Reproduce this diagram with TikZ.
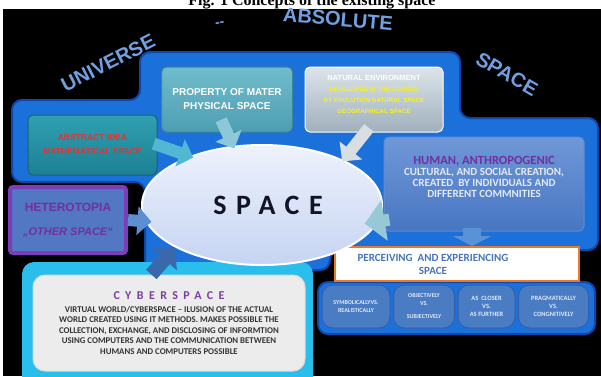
\documentclass[tikz,border=0pt]{standalone}
\usepackage{fontspec}
\setmainfont{Carlito}
\newfontfamily\arialfont{Liberation Sans}
\newfontfamily\captionfont{Liberation Serif}
\newfontfamily\trackedfont[LetterSpace=34]{Carlito}
\newfontfamily\widetrackedfont[LetterSpace=45]{Carlito}
\usetikzlibrary{arrows.meta,positioning,shapes.geometric}

\definecolor{plateblue}{RGB}{28,112,218}
\definecolor{plateedge}{RGB}{14,72,172}
\definecolor{arcblue}{RGB}{112,160,225}
\definecolor{tealtop}{RGB}{48,160,176}
\definecolor{tealbottom}{RGB}{28,128,148}
\definecolor{tealedge}{RGB}{22,100,118}
\definecolor{ideared}{RGB}{232,48,48}
\definecolor{mattertop}{RGB}{112,188,204}
\definecolor{matterbottom}{RGB}{78,158,178}
\definecolor{matteredge}{RGB}{62,132,152}
\definecolor{silvertop}{RGB}{220,228,234}
\definecolor{silverbottom}{RGB}{160,176,188}
\definecolor{natureyellow}{RGB}{246,240,40}
\definecolor{humantop}{RGB}{112,152,216}
\definecolor{humanbottom}{RGB}{72,118,194}
\definecolor{humanedge}{RGB}{96,140,210}
\definecolor{anthropurple}{RGB}{112,48,160}
\definecolor{heterofill}{RGB}{82,120,196}
\definecolor{heteroedge}{RGB}{124,62,184}
\definecolor{cyberframe}{RGB}{42,190,236}
\definecolor{cyberfill}{RGB}{236,236,236}
\definecolor{cybertext}{RGB}{52,52,52}
\definecolor{cyberpurple}{RGB}{122,62,162}
\definecolor{perceiveedge}{RGB}{232,122,42}
\definecolor{perceivetext}{RGB}{72,116,186}
\definecolor{rowfill}{RGB}{74,124,196}
\definecolor{rowedge}{RGB}{50,96,172}
\definecolor{rowtext}{RGB}{226,234,246}
\definecolor{spacetop}{RGB}{238,242,252}
\definecolor{spacebottom}{RGB}{198,212,242}
\definecolor{spaceink}{RGB}{16,20,36}
\definecolor{abstractarrow}{RGB}{80,184,210}
\definecolor{matterarrow}{RGB}{140,200,216}
\definecolor{naturearrow}{RGB}{216,222,226}
\definecolor{humanarrow}{RGB}{150,200,214}
\definecolor{heteroarrow}{RGB}{92,142,210}
\definecolor{cyberarrow}{RGB}{58,104,172}
\definecolor{rowarrow}{RGB}{90,146,216}

\tikzset{
  box/.style={rounded corners=5pt, line width=1pt, align=center, inner sep=2pt},
  rowbox/.style={box, rounded corners=11pt, fill=rowfill, draw=rowedge, text=rowtext,
    minimum height=43pt, font=\bfseries\fontsize{6}{7.5}\selectfont},
  arcword/.style={text=arcblue, font=\arialfont\bfseries\fontsize{20}{20}\selectfont},
  blockarrow/.style={line width=12pt, -{Triangle[length=14pt,width=28pt]}},
}

\begin{document}
\begin{tikzpicture}[x=1pt, y=-1pt]
  \useasboundingbox (0,0) rectangle (601,376);
  \fill[white] (0,0) rectangle (601,9);
  \fill[black] (3,9) rectangle (601,376);
  \begin{scope}
    \clip (0,0) rectangle (601,9);
    \node[anchor=base, font=\captionfont\bfseries\fontsize{16}{16}\selectfont] (caption) at (312,5) {Fig. 1 Concepts of the existing space};
  \end{scope}

  \node[arcword, rotate=27] (universe) at (108,63) {UNIVERSE};
  \node[arcword, rotate=10, font=\arialfont\bfseries\fontsize{14}{14}\selectfont] (dash) at (220,24) {--};
  \node[arcword, rotate=-5] (absolute) at (338,19) {ABSOLUTE};
  \node[arcword, rotate=-30] (spaceword) at (507,74) {SPACE};

  \filldraw[fill=plateblue, draw=plateedge, line width=2pt, rounded corners=10pt]
    (12,100) -- (140,100) -- (140,52) -- (460,52) -- (460,118) -- (598,118) -- (598,250)
    -- (330,250) -- (330,270) -- (145,270) -- (145,182) -- (12,182) -- cycle;
  \filldraw[fill=plateblue, draw=plateedge, line width=2pt, rounded corners=10pt] (318,282) rectangle (595,334);
  \fill[cyberframe, rounded corners=12pt] (22,262) rectangle (313,390);

  \node[box, minimum width=129pt, minimum height=60pt, top color=tealtop, bottom color=tealbottom, draw=tealedge,
    text=ideared, font=\arialfont\bfseries\fontsize{8.5}{14}\selectfont] (abstract) at (92.5,145) {ABSTRACT IDEA\\MATHEMATICAL SPACE};
  \node[box, minimum width=131pt, minimum height=65pt, top color=mattertop, bottom color=matterbottom, draw=matteredge,
    text=white, font=\arialfont\bfseries\fontsize{10}{14}\selectfont] (matter) at (227,99.5) {PROPERTY OF MATER\\PHYSICAL SPACE};
  \node[box, minimum width=138pt, minimum height=65pt, top color=silvertop, bottom color=silverbottom, draw=white] (natural) at (374,99.5) {};
  \node[align=center, text=natureyellow, font=\arialfont\bfseries\fontsize{6.2}{11}\selectfont] (naturaltext) at ([yshift=5.5pt]natural.center)
    {{\color{white}\fontsize{7.5}{11}\selectfont NATURAL ENVIRONMENT}\\DEVELOPED IN THE COURSE\\BY EVOLUTION NATURAL SPACE\\GEOGRAPHICAL SPACE};
  \node[box, minimum width=200pt, minimum height=94pt, top color=humantop, bottom color=humanbottom, draw=humanedge] (human) at (484,184) {};
  \node[align=center, text=rowtext, font=\bfseries\fontsize{11}{11}\selectfont] (humantext) at ([yshift=7pt]human.center)
    {{\color{anthropurple}\fontsize{12.5}{12}\selectfont HUMAN, ANTHROPOGENIC}\\CULTURAL, AND SOCIAL CREATION,\\CREATED~~BY INDIVIDUALS AND\\DIFFERENT COMMNITIES};
  \node[box, minimum width=116pt, minimum height=66pt, fill=heterofill, draw=heteroedge, line width=4pt, rounded corners=3pt,
    text=anthropurple, font=\arialfont\bfseries\fontsize{12}{24}\selectfont] (hetero) at (68,220) {HETEROTOPIA\\{\itshape\fontsize{11}{24}\selectfont „OTHER SPACE“}};
  \node[box, minimum width=272pt, minimum height=96pt, rounded corners=12pt, fill=cyberfill, draw=white!85!black,
    text=cybertext, font=\bfseries\fontsize{8.8}{10.5}\selectfont] (cyber) at (169,323)
    {{\widetrackedfont\color{cyberpurple}\fontsize{12}{12}\selectfont CYBERSPACE}\\[2pt]
     VIRTUAL WORLD/CYBERSPACE -- ILUSION OF THE ACTUAL\\WORLD CREATED USING IT METHODS. MAKES POSSIBLE THE\\
     COLLECTION, EXCHANGE, AND DISCLOSING OF INFORMTION\\USING COMPUTERS AND THE COMMUNICATION BETWEEN\\HUMANS AND COMPUTERS POSSIBLE};

  \node[box, rounded corners=0pt, minimum width=244pt, minimum height=34pt, fill=white, draw=perceiveedge, line width=2pt] (perceive) at (457,264) {};
  \node[align=center, text=perceivetext, font=\bfseries\fontsize{11}{13}\selectfont] (perceivetext) at ([xshift=-24pt]perceive.center)
    {PERCEIVING~~AND EXPERIENCING\\SPACE};

  \node[rowbox, minimum width=68pt] (symbolic) at (356,306.5) {SYMBOLICALLYVS.\\REALISTICALLY};
  \node[rowbox, minimum width=61pt, right=2.5pt of symbolic] (objective) {OBJECTIVELY\\VS.\\[6pt]SUBJECTIVELY};
  \node[rowbox, minimum width=57pt, right=2.5pt of objective, font=\bfseries\fontsize{6.5}{8}\selectfont] (closer) {AS~~CLOSER\\VS.\\AS FURTHER};
  \node[rowbox, minimum width=70pt, right=2.5pt of closer, font=\bfseries\fontsize{6.5}{8}\selectfont] (pragmatic) {PRAGMATICALLY\\VS.\\CONGNITIVELY};

  \node[ellipse, minimum width=240pt, minimum height=120pt, inner sep=0pt, top color=spacetop, bottom color=spacebottom,
    draw=white, line width=2pt, text=spaceink, font=\trackedfont\bfseries\fontsize{28}{28}\selectfont] (space) at (262,205) {\kern12pt SPACE};

  \draw[blockarrow, draw=abstractarrow, shorten <=-4pt, shorten >=-4pt] (abstract.east) -- (space.146);
  \draw[blockarrow, draw=matterarrow, shorten <=-14pt, shorten >=-3pt] (matter.south) -- (space.116);
  \draw[blockarrow, draw=naturearrow, shorten <=-6pt, shorten >=-2pt] (natural.255) -- (space.29);
  \draw[draw=humanarrow, line width=12pt, -{Triangle[length=20pt,width=40pt]}, shorten <=-6pt, shorten >=-14pt] (human.200) -- (space.-8);
  \draw[blockarrow, draw=heteroarrow, shorten >=-6pt] (hetero.east) -- (space.188);
  \draw[blockarrow, draw=cyberarrow, line width=14pt, -{Triangle[length=16pt,width=32pt]}] (cyber.110) -- (space.206);
  \draw[draw=rowarrow, line width=18pt, -{Triangle[length=10pt,width=38pt]}, shorten <=-4pt]
    ([xshift=-12pt]human.south) -- ([xshift=-12pt]human.south |- perceive.north);
\end{tikzpicture}
\end{document}
